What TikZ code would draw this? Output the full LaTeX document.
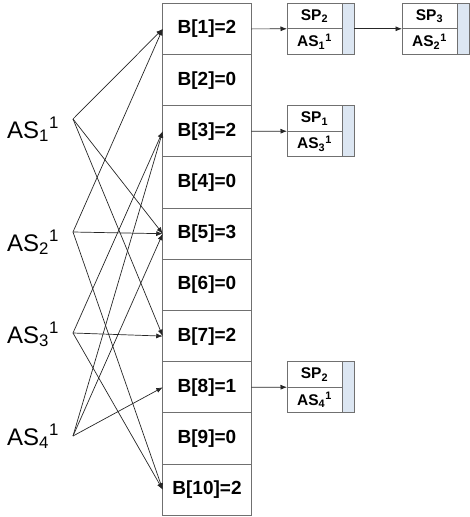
\documentclass[tikz,border=0pt]{standalone}
\usepackage{fontspec}
\setmainfont{Liberation Sans}
\usetikzlibrary{arrows.meta,positioning}
\definecolor{stripblue}{HTML}{DCE6F2}
\definecolor{edgegray}{HTML}{707070}

\begin{document}
\begin{tikzpicture}[x=1pt,y=-1pt,
  cell/.style={draw=edgegray,fill=white,line width=1pt,minimum width=88.5pt,minimum height=51.2pt,inner sep=0pt,outer sep=0pt,font=\fontsize{19}{21}\selectfont\bfseries},
  half/.style={draw=edgegray,line width=0.8pt,minimum width=55pt,minimum height=25.5pt,inner sep=0pt,outer sep=0pt,font=\fontsize{15.5}{17}\selectfont\bfseries},
  strip/.style={draw=edgegray,fill=stripblue,line width=0.8pt,minimum width=12pt,minimum height=51pt,inner sep=0pt,outer sep=0pt},
  aslabel/.style={font=\fontsize{24}{26}\selectfont,inner sep=0pt},
  arr/.style={-{Latex[length=6.5pt,width=5pt]},line width=0.7pt,draw=black!85}
]
\useasboundingbox (0,0) rectangle (469,517);
% bucket array
\foreach \i/\v in {1/2,2/0,3/2,4/0,5/3,6/0,7/2,8/1,9/0,10/2}
  \node[cell] (b\i) at (207,{3.3+51.2*(\i-0.5)}) {B[\i]=\v};
% AS labels and their fan-out points
\coordinate (s1) at (73,119);
\coordinate (s2) at (73,232);
\coordinate (s3) at (73,333);
\coordinate (s4) at (73,436);
\node[aslabel,anchor=base west] (as1) at (7,138) {AS\textsubscript{1}\textsuperscript{1}};
\node[aslabel,anchor=base west] (as2) at (7,251) {AS\textsubscript{2}\textsuperscript{1}};
\node[aslabel,anchor=base west] (as3) at (7,343) {AS\textsubscript{3}\textsuperscript{1}};
\node[aslabel,anchor=base west] (as4) at (7,445) {AS\textsubscript{4}\textsuperscript{1}};
\foreach \s/\t in {1/1,1/5,1/7,2/1,2/5,2/10,3/3,3/7,3/10,4/3,4/5,4/8}
  \draw[arr] (s\s) -- (b\t.west);
% list entries
\node[half,anchor=north west] (p1a) at (287,3.3) {SP\textsubscript{2}};
\node[half,below=0pt of p1a] (p1b) {AS\textsubscript{1}\textsuperscript{1}};
\node[strip,anchor=north west] (p1s) at (p1a.north east) {};
\node[half,anchor=north west] (p2a) at (402,3.3) {SP\textsubscript{3}};
\node[half,below=0pt of p2a] (p2b) {AS\textsubscript{2}\textsuperscript{1}};
\node[strip,anchor=north west] (p2s) at (p2a.north east) {};
\node[half,anchor=north west] (p3a) at (287,105.7) {SP\textsubscript{1}};
\node[half,below=0pt of p3a] (p3b) {AS\textsubscript{3}\textsuperscript{1}};
\node[strip,anchor=north west] (p3s) at (p3a.north east) {};
\node[half,anchor=north west] (p4a) at (287,361.7) {SP\textsubscript{2}};
\node[half,below=0pt of p4a] (p4b) {AS\textsubscript{4}\textsuperscript{1}};
\node[strip,anchor=north west] (p4s) at (p4a.north east) {};
\draw[arr] (b1.east) -- (p1a.south west);
\draw[arr] (p1s.east) -- (p2a.south west);
\draw[arr] (b3.east) -- (p3a.south west);
\draw[arr] (b8.east) -- (p4a.south west);
\end{tikzpicture}
\end{document}
